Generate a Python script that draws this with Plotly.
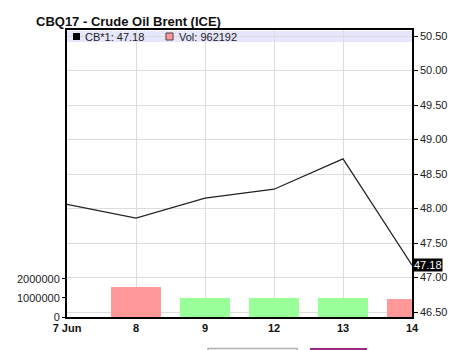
import plotly.graph_objects as go

dates = ["7 Jun", "8", "9", "12", "13", "14"]
price = [48.06, 47.86, 48.15, 48.28, 48.72, 47.18]
volume = [None, 1580000, 980000, 990000, 990000, 962192]
vol_colors = ["#ff9999", "#ff9999", "#99ff99", "#99ff99", "#99ff99", "#ff9999"]
price_ticks = [46.5, 47.0, 47.5, 48.0, 48.5, 49.0, 49.5, 50.0, 50.5]
vol_ticks = [0, 1000000, 2000000]

FONT = "Liberation Sans, Arial, sans-serif"
L, R, T, B = 67, 412, 30, 317
W, H = R - L, B - T

def px(x):
    return (x - L) / W

def py(y):
    return (B - y) / H

xs = list(range(len(dates)))

fig = go.Figure()
fig.add_trace(go.Bar(x=xs, y=volume, marker=dict(color=vol_colors, line=dict(width=0)),
                     width=0.72, yaxis="y2", showlegend=False))
fig.add_trace(go.Scatter(x=xs, y=price, mode="lines", line=dict(color="#222222", width=1.2),
                         yaxis="y", showlegend=False))

fig.update_layout(
    width=472, height=350,
    margin=dict(l=L, r=472 - R, t=T, b=350 - B, pad=0),
    paper_bgcolor="white", plot_bgcolor="white",
    font=dict(family=FONT, size=11, color="#111111"),
    xaxis=dict(range=[0, 5], tickvals=xs, ticktext=[f"<b>{d}</b>" for d in dates],
               showgrid=True, gridcolor="#dddddd", gridwidth=1,
               showline=True, linecolor="black", linewidth=1.5, mirror=True,
               ticks="", tickfont=dict(size=11, color="#111111"), zeroline=False),
    yaxis=dict(side="right", range=[46.428, 50.587], tickvals=price_ticks,
               ticktext=[f"{v:.2f}" for v in price_ticks],
               showgrid=True, gridcolor="#dddddd", gridwidth=1,
               showline=True, linecolor="black", linewidth=1.5, mirror=True,
               ticks="outside", ticklen=4, tickcolor="black",
               tickfont=dict(size=11, color="#222222"), zeroline=False),
    yaxis2=dict(side="left", overlaying="y", range=[0, 15.1e6], tickvals=vol_ticks,
                ticktext=[str(v) for v in vol_ticks], showgrid=False,
                ticks="outside", ticklen=4, tickcolor="black",
                tickfont=dict(size=11, color="#222222"), zeroline=False, showline=False),
    bargap=0,
)

shapes = [
    # legend band
    dict(type="rect", xref="paper", yref="paper", x0=0, x1=1, y0=py(42), y1=py(31),
         fillcolor="rgba(210,210,255,0.55)", line=dict(width=0), layer="below"),
    dict(type="rect", xref="paper", yref="paper", x0=px(73), x1=px(80), y0=py(40), y1=py(33),
         fillcolor="black", line=dict(width=0)),
    dict(type="rect", xref="paper", yref="paper", x0=px(166), x1=px(173), y0=py(40), y1=py(33),
         fillcolor="#ff9999", line=dict(color="#444444", width=1)),
    # partially visible buttons at bottom
    dict(type="rect", xref="paper", yref="paper", x0=px(208), x1=px(297), y0=py(356), y1=py(348.5),
         fillcolor="white", line=dict(color="#b0b0b0", width=1.5)),
    dict(type="rect", xref="paper", yref="paper", x0=px(310), x1=px(367), y0=py(356), y1=py(348),
         fillcolor="#9c2a84", line=dict(width=0)),
]
fig.update_layout(shapes=shapes)

annotations = [
    dict(xref="paper", yref="paper", x=px(34), y=py(21), xanchor="left", yanchor="middle",
         text="<b>CBQ17 - Crude Oil Brent (ICE)</b>", showarrow=False,
         font=dict(size=13, color="#111111", family=FONT)),
    dict(xref="paper", yref="paper", x=px(83), y=py(36.5), xanchor="left", yanchor="middle",
         text=f"CB*1: {price[-1]:.2f}", showarrow=False, font=dict(size=11, color="#222222")),
    dict(xref="paper", yref="paper", x=px(177), y=py(36.5), xanchor="left", yanchor="middle",
         text=f"Vol: {volume[-1]}", showarrow=False, font=dict(size=11, color="#222222")),
    dict(xref="paper", yref="y", x=1, y=price[-1], xanchor="left", yanchor="middle",
         xshift=1, text=f"{price[-1]:.2f}", showarrow=False, bgcolor="black",
         font=dict(size=11, color="white"), borderpad=0),
]
fig.update_layout(annotations=annotations)

fig.write_html("out.html")
